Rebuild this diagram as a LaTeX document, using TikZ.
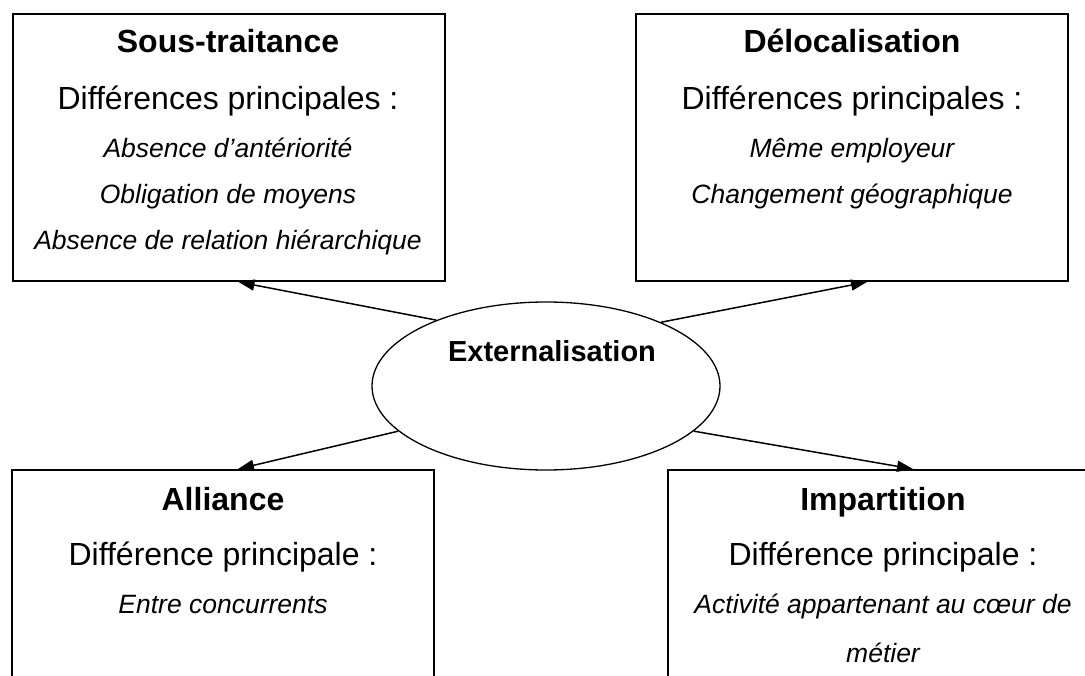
\documentclass[tikz,border=0pt]{standalone}
\usepackage{fontspec}
\setmainfont{Liberation Sans}
\usetikzlibrary{arrows.meta,shapes.geometric}
\begin{document}
\begin{tikzpicture}[x=1pt,y=-1pt,
  box/.style={draw,line width=2pt,rectangle,inner sep=0pt},
  heading/.style={anchor=base,font=\fontsize{32}{38}\selectfont\bfseries},
  subhead/.style={anchor=base,font=\fontsize{32}{38}\selectfont},
  entry/.style={anchor=base,font=\fontsize{26.5}{32}\selectfont\itshape},
  link/.style={line width=1.5pt,-{Triangle[length=16pt,width=11pt]}}]
\useasboundingbox (0,0) rectangle (1085,676);

% four boxes (the lower ones run past the page edge)
\node[box,minimum width=432pt,minimum height=267pt] (st) at (228.5,147.5) {};
\node[box,minimum width=432pt,minimum height=267pt] (de) at (852,147.5) {};
\node[box,minimum width=422pt,minimum height=290pt] (al) at (223,615) {};
\node[box,minimum width=430pt,minimum height=290pt] (im) at (883,615) {};

% centre ellipse
\node[draw,ellipse,line width=1.3pt,minimum width=348pt,minimum height=168pt,inner sep=0pt] (ext) at (546,386) {};
\node[heading,font=\fontsize{29}{34}\selectfont\bfseries] (extlbl) at (552,362) {Externalisation};

% Sous-traitance
\node[heading] (st1) at (228,53) {Sous-traitance};
\node[subhead] (st2) at (228,110) {Différences principales :};
\node[entry] (st3) at (228,158) {Absence d’antériorité};
\node[entry] (st4) at (228,204) {Obligation de moyens};
\node[entry] (st5) at (228,250) {Absence de relation hiérarchique};

% Délocalisation
\node[heading] (de1) at (852,53) {Délocalisation};
\node[subhead] (de2) at (852,110) {Différences principales :};
\node[entry] (de3) at (852,158) {Même employeur};
\node[entry] (de4) at (852,204) {Changement géographique};

% Alliance
\node[heading] (al1) at (223,510) {Alliance};
\node[subhead] (al2) at (223,565) {Différence principale :};
\node[entry] (al3) at (223,613) {Entre concurrents};

% Impartition
\node[heading] (im1) at (883,510) {Impartition};
\node[subhead] (im2) at (883,565) {Différence principale :};
\node[entry] (im3) at (883,613) {Activité appartenant au cœur de};
\node[entry] (im4) at (883,662) {métier};

% connectors
\draw[link] (ext.149) -- ([xshift=10pt]st.south);
\draw[link] (ext.29) -- ([xshift=15pt]de.south);
\draw[link] (ext.197.5) -- ([xshift=15pt]al.north);
\draw[link] (ext.343.3) -- ([xshift=30pt]im.north);
\end{tikzpicture}
\end{document}
